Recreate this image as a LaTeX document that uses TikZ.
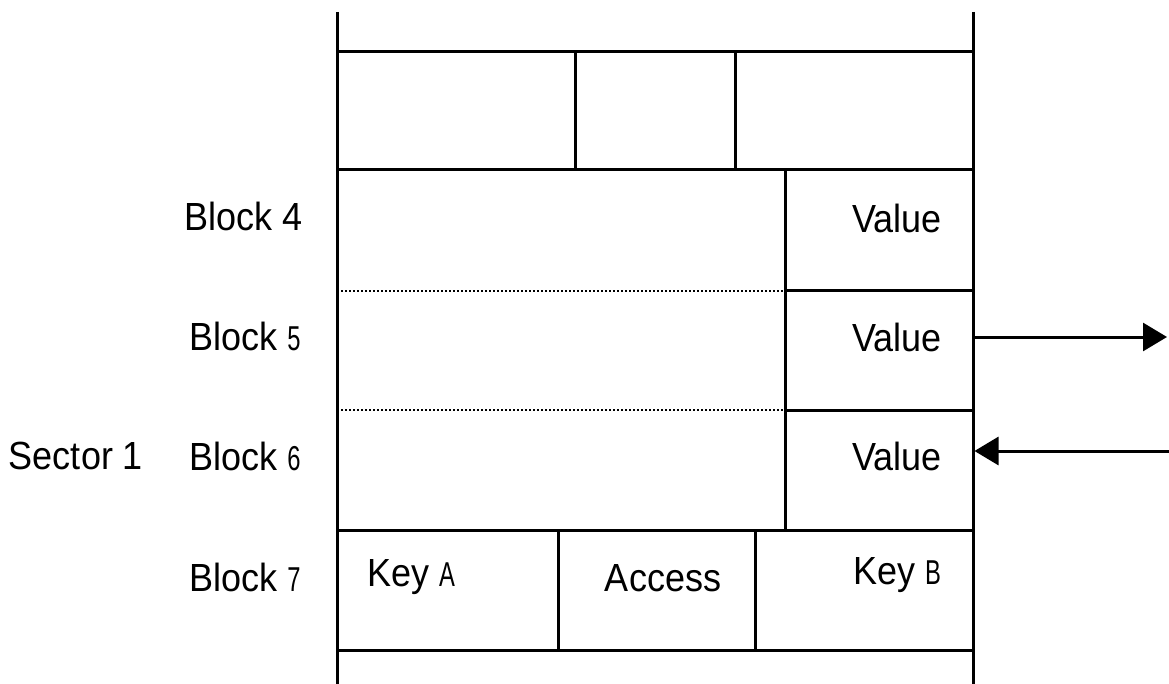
\documentclass[tikz,border=0pt]{standalone}
\usepackage{fontspec}
\setmainfont{Liberation Sans}
\usetikzlibrary{arrows.meta}
\newcommand{\narrow}[1]{\scalebox{0.66}[0.88]{#1}}
\newcommand{\tall}[1]{\scalebox{1}[1.09]{#1}}
\begin{document}
\begin{tikzpicture}[x=1pt,y=-1pt,line width=3pt,
  lbl/.style={font=\fontsize{36}{40}\selectfont,inner sep=0pt,anchor=center},
  cell/.style={draw=none,inner sep=0pt,minimum width=188pt,minimum height=119pt},
  sep/.style={line width=1.8pt,dash pattern=on 2pt off 2pt},
  conn/.style={line width=3pt,-{Triangle[length=24pt,width=28pt]}}]
\useasboundingbox (0,0) rectangle (1169,684);
% outer walls
\draw (337,12) -- (337,684);
\draw (973,12) -- (973,684);
% top block
\draw (337,52) -- (973,52);
\draw (575,52) -- (575,170);
\draw (735,52) -- (735,170);
\draw (337,170) -- (973,170);
% data blocks with value column
\draw (785,170) -- (785,530);
\draw (785,291) -- (973,291);
\draw (785,410) -- (973,410);
\draw[sep] (337,291) -- (785,291);
\draw[sep] (337,410) -- (785,410);
\draw (337,530) -- (973,530);
% trailer block
\draw (558,530) -- (558,650);
\draw (755,530) -- (755,650);
\draw (337,650) -- (973,650);
% value cells (for arrow anchors)
\node[cell] (v4) at (879,230) {};
\node[cell] (v5) at (879,350) {};
\node[cell] (v6) at (879,470) {};
% labels
\node[lbl] (b4) at (244,216) {\tall{Block 4}};
\node[lbl] (b5) at (245,336) {\tall{Block \narrow{5}}};
\node[lbl] (b6) at (245,456) {\tall{Block \narrow{6}}};
\node[lbl] (b7) at (245,577) {\tall{Block \narrow{7}}};
\node[lbl] (sec) at (76,456) {\tall{Sector 1}};
\node[lbl] (t4) at (897,218) {\tall{Value}};
\node[lbl] (t5) at (897,337) {\tall{Value}};
\node[lbl] (t6) at (897,456) {\tall{Value}};
\node[lbl] (ka) at (411,577) {\tall{Key \narrow{A}}};
\node[lbl] (acc) at (663,578) {\tall{Access}};
\node[lbl] (kb) at (897,575) {\tall{Key \narrow{B}}};
% arrows
\coordinate (outend) at (1167,337);
\coordinate (instart) at (1169,451);
\draw[conn] (973,337) -- (outend);
\draw[conn] (instart) -- (974.5,451);
\end{tikzpicture}
\end{document}
